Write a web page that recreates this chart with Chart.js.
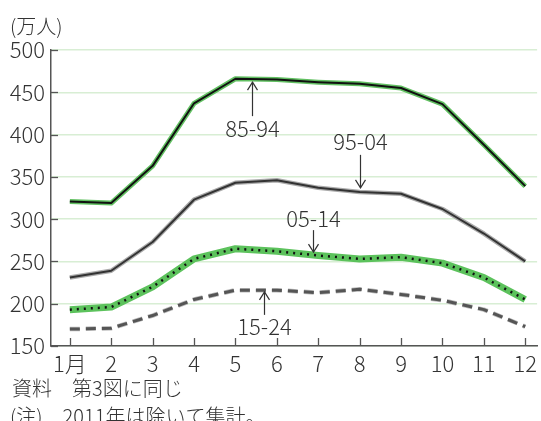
<!DOCTYPE html>
<html>
<head>
<meta charset="utf-8">
<script src="https://cdn.jsdelivr.net/npm/chart.js@4"></script>
<style>
  html, body { margin: 0; padding: 0; background: #fff; }
  #wrap { width: 541px; height: 421px; }
</style>
</head>
<body>
<div id="wrap"><canvas id="chart" width="541" height="421"></canvas></div>
<script>
// months on the x axis
var months = [1, 2, 3, 4, 5, 6, 7, 8, 9, 10, 11, 12]
// y axis ticks (万人)
var yTicks = [150, 200, 250, 300, 350, 400, 450, 500]

// series by birth period
var s8594 = [321, 319, 363, 437, 466, 465, 462, 460, 455, 436, 388, 339]
var s9504 = [231, 239, 273, 323, 343, 346, 337, 332, 330, 312, 283, 250]
var s0514 = [193, 196, 220, 253, 265, 262, 257, 253, 255, 248, 231, 205]
var s1524 = [170, 171, 186, 205, 216, 216, 213, 217, 211, 204, 193, 173]

var FONT = '"Noto Sans CJK JP", "Noto Sans", sans-serif'
var TEXT = '#333'

function pts(vals) {
    return months.map(function (m, i) { return { x: m, y: vals[i] } })
}

// labels with arrows, placed in data units (x = month, tip = value)
var notes = [
    { text: '85-94', x: 5.41, tip: 462, dir: 'up', len: 34, gap: 13 },
    { text: '95-04', x: 8.0, tip: 337, dir: 'down', len: 33, gap: 13 },
    { text: '05-14', x: 6.87, tip: 261, dir: 'down', len: 22, gap: 11 },
    { text: '15-24', x: 5.70, tip: 214, dir: 'up', len: 23, gap: 12 }
]

var extras = {
    id: 'extras',
    afterDraw: function (chart) {
        var ctx = chart.ctx
        var xs = chart.scales.x, ys = chart.scales.y
        var a = chart.chartArea
        ctx.save()
        // inward tick marks
        ctx.strokeStyle = '#555'
        ctx.lineWidth = 1.3
        yTicks.forEach(function (v) {
            var y = Math.round(ys.getPixelForValue(v)) + 0.5
            ctx.beginPath(); ctx.moveTo(a.left, y); ctx.lineTo(a.left + 7, y); ctx.stroke()
        })
        months.forEach(function (m) {
            var x = Math.round(xs.getPixelForValue(m)) + 0.5
            ctx.beginPath(); ctx.moveTo(x, a.bottom); ctx.lineTo(x, a.bottom - 8); ctx.stroke()
        })

        // arrows + labels
        ctx.strokeStyle = TEXT
        ctx.fillStyle = TEXT
        ctx.lineWidth = 1.2
        ctx.font = '300 22px ' + FONT
        ctx.textAlign = 'center'
        ctx.textBaseline = 'middle'
        notes.forEach(function (n) {
            var x = Math.round(xs.getPixelForValue(n.x)) + 0.5
            var tip = ys.getPixelForValue(n.tip)
            var s = n.dir === 'up' ? 1 : -1
            var tail = tip + s * n.len
            ctx.beginPath(); ctx.moveTo(x, tip); ctx.lineTo(x, tail); ctx.stroke()
            ctx.beginPath()
            ctx.moveTo(x - 5, tip + s * 8); ctx.lineTo(x, tip); ctx.lineTo(x + 5, tip + s * 8)
            ctx.stroke()
            ctx.fillText(n.text, x, tail + s * n.gap)
        })

        // unit + notes
        ctx.textAlign = 'left'
        ctx.font = '300 20px ' + FONT
        ctx.fillText('(万人)', 10, 26)
        ctx.fillText('資料　第3図に同じ', 12, 388)
        ctx.fillText('(注)　2011年は除いて集計。', 10, 416)
        ctx.restore()
    }
}

var line = function (vals, color, width, order, dash) {
    return {
        data: pts(vals),
        borderColor: color,
        borderWidth: width,
        borderDash: dash || [],
        borderCapStyle: 'butt',
        borderJoinStyle: 'round',
        pointRadius: 0,
        tension: 0,
        order: order
    }
}

new Chart(document.getElementById('chart'), {
    type: 'line',
    data: {
        datasets: [
            line(s8594, '#62c062', 5, 2),
            line(s8594, '#111', 2, 1),
            line(s9504, '#aaa', 4.5, 2),
            line(s9504, '#333', 2, 1),
            line(s0514, '#5cc25c', 7, 2),
            line(s0514, '#111', 2.5, 1, [2, 5]),
            line(s1524, '#bbb', 4.5, 2, [10, 6]),
            line(s1524, '#555', 3, 1, [10, 6])
        ]
    },
    options: {
        responsive: false,
        animation: false,
        layout: { padding: { top: 50, right: 0, bottom: 0, left: 0 } },
        plugins: { legend: { display: false }, tooltip: { enabled: false } },
        scales: {
            x: {
                type: 'linear',
                min: 0.545,
                max: 12.287,
                afterBuildTicks: function (s) { s.ticks = months.map(function (m) { return { value: m } }) },
                afterFit: function (s) { s.height = 75 },
                grid: { drawOnChartArea: false, drawTicks: false },
                border: { color: '#555', width: 1.5 },
                ticks: {
                    padding: 4,
                    autoSkip: false,
                    maxRotation: 0,
                    color: TEXT,
                    font: { family: FONT, size: 22, weight: '300' },
                    callback: function (v) { return v === 1 ? '1月' : String(v) }
                }
            },
            y: {
                min: 150,
                max: 500,
                afterBuildTicks: function (s) { s.ticks = yTicks.map(function (v) { return { value: v } }) },
                afterFit: function (s) { s.width = 51 },
                grid: { color: '#d8eed4', lineWidth: 1.5, drawTicks: false },
                border: { color: '#555', width: 1.5 },
                ticks: {
                    padding: 6,
                    color: TEXT,
                    font: { family: FONT, size: 22, weight: '300' }
                }
            }
        }
    },
    plugins: [extras]
})
</script>
</body>
</html>
